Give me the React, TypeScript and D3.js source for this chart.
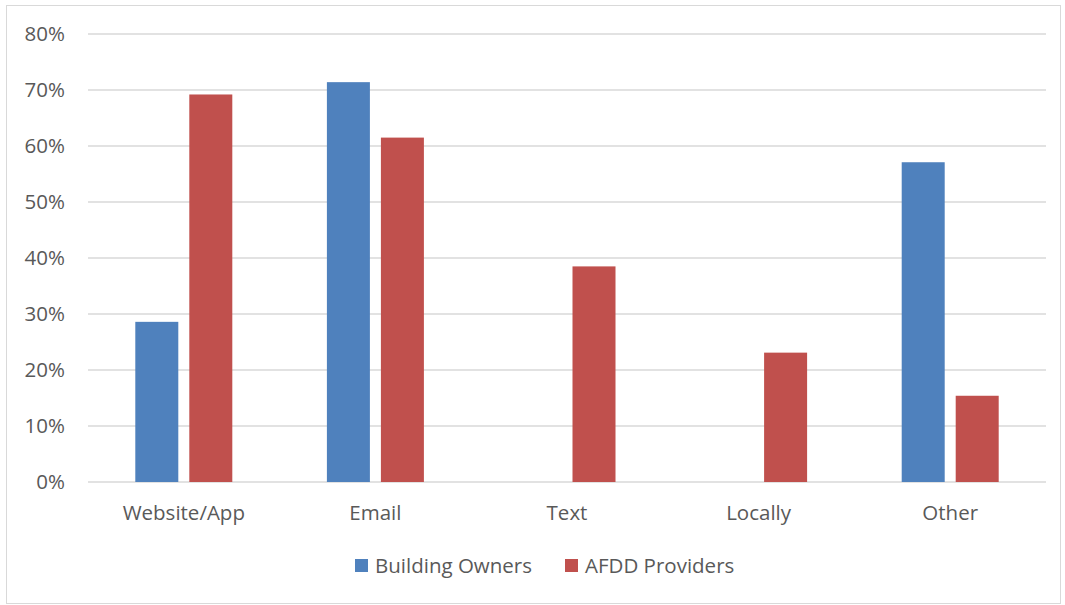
import React from "react";
import * as d3 from "d3";

const categories = ["Website/App", "Email", "Text", "Locally", "Other"];
const seriesNames = ["Building Owners", "AFDD Providers"];
const buildingOwners = [28.6, 71.4, 0, 0, 57.1];
const afddProviders = [69.2, 61.5, 38.5, 23.1, 15.4];
const yTicks = [0, 10, 20, 30, 40, 50, 60, 70, 80];
const colors = ["#4f81bd", "#c0504d"];

const W = 1065;
const H = 605;
const FONT = "'Open Sans', 'Noto Sans', sans-serif";
const TEXT = "#595959";
const FS = 20.5;

export default function App() {
  const left = 88, right = 1046, top = 34, bottom = 482;
  const x = d3.scaleBand<string>().domain(categories).range([left, right]);
  const y = d3.scaleLinear().domain([0, 80]).range([bottom, top]);
  const barW = 43;
  const gap = 11;
  const series = [buildingOwners, afddProviders];

  return (
    <svg width={W} height={H} style={{ position: "absolute", left: 0, top: 0 }}>
      <rect x={0} y={0} width={W} height={H} fill="#fff" />
      <rect x={6.5} y={5.5} width={1054} height={598} fill="none" stroke="#d9d9d9" strokeWidth={1} />
      {yTicks.map((t) => (
        <g key={t}>
          <line x1={left} x2={right} y1={y(t)} y2={y(t)} stroke="#d9d9d9" strokeWidth={1.3} />
          <text x={65} y={y(t)} dy="0.35em" textAnchor="end" fontFamily={FONT} fontSize={FS} fill={TEXT}>
            {t}%
          </text>
        </g>
      ))}
      {categories.map((c, i) => {
        const cx = (x(c) as number) + x.bandwidth() / 2;
        return (
          <g key={c}>
            {series.map((s, k) => {
              const bx = k === 0 ? cx - gap / 2 - barW : cx + gap / 2;
              return s[i] > 0 ? (
                <rect key={k} x={bx} y={y(s[i])} width={barW} height={y(0) - y(s[i])} fill={colors[k]} />
              ) : null;
            })}
            <text x={cx} y={513} dy="0.35em" textAnchor="middle" fontFamily={FONT} fontSize={FS} fill={TEXT}>
              {c}
            </text>
          </g>
        );
      })}
      <g>
        {seriesNames.map((n, k) => {
          const lx = k === 0 ? 355 : 565;
          return (
            <g key={n}>
              <rect x={lx} y={559} width={13} height={13} fill={colors[k]} />
              <text x={lx + 20} y={566} dy="0.35em" fontFamily={FONT} fontSize={FS} fill={TEXT}>
                {n}
              </text>
            </g>
          );
        })}
      </g>
    </svg>
  );
}
